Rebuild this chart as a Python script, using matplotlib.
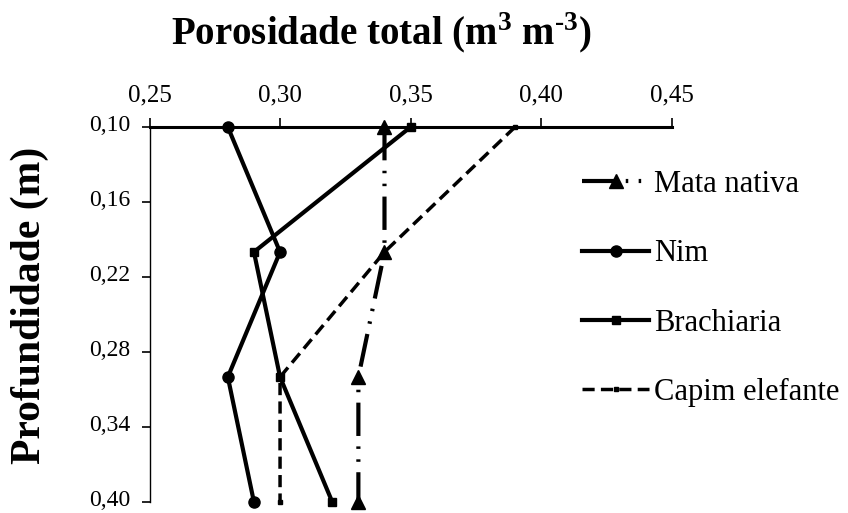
import matplotlib
matplotlib.use("Agg")
import matplotlib.pyplot as plt
import matplotlib.transforms as mtransforms
from matplotlib.ticker import FixedLocator, FuncFormatter

depth = [0.10, 0.20, 0.30, 0.40]
mata_nativa = [0.34, 0.34, 0.33, 0.33]
nim = [0.28, 0.30, 0.28, 0.29]
brachiaria = [0.35, 0.29, 0.30, 0.32]
capim_elefante = [0.39, 0.34, 0.30, 0.30]
x_ticks = [0.25, 0.30, 0.35, 0.40, 0.45]
y_ticks = [0.10, 0.16, 0.22, 0.28, 0.34, 0.40]
labels = ["Mata nativa", "Nim", "Brachiaria", "Capim elefante"]

plt.rcParams['font.family'] = ['Liberation Serif', 'DejaVu Serif']
plt.rcParams['mathtext.fontset'] = 'custom'
plt.rcParams['mathtext.rm'] = 'Liberation Serif:bold'
plt.rcParams['mathtext.bf'] = 'Liberation Serif:bold'

fig = plt.figure(figsize=(8.48, 5.13), dpi=100)
ax = fig.add_axes([149.5/848, 1-502/513, (671.7-149.5)/848, (502-127)/513])

l1, = ax.plot(mata_nativa, depth, color='black', lw=3, marker='^', markersize=10,
              dashes=(8, 2.5, 0.6, 2.5, 0.6, 2.5), label=labels[0], clip_on=False)
l2, = ax.plot(nim, depth, color='black', lw=3, marker='o', markersize=8,
              label=labels[1], clip_on=False)
l3, = ax.plot(brachiaria, depth, color='black', lw=3, marker='s', markersize=6,
              label=labels[2], clip_on=False)
l4, = ax.plot(capim_elefante, depth, color='black', lw=2.5, marker='s', markersize=3.5,
              dashes=(3.5, 1.8), label=labels[3], clip_on=False)

ax.set_xlim(0.25, 0.45)
ax.set_ylim(0.40, 0.10)
ax.xaxis.set_major_locator(FixedLocator(x_ticks))
ax.yaxis.set_major_locator(FixedLocator(y_ticks))
fmt = FuncFormatter(lambda v, p: f"{v:.2f}".replace('.', ','))
ax.xaxis.set_major_formatter(fmt)
ax.yaxis.set_major_formatter(fmt)
ax.xaxis.tick_top()
ax.spines['bottom'].set_visible(False)
ax.spines['right'].set_visible(False)
ax.spines['top'].set_linewidth(2.2)
ax.spines['left'].set_linewidth(1.0)
ax.tick_params(axis='x', direction='out', length=6.5, width=1.2, pad=8, labelsize=18)
ax.tick_params(axis='y', direction='out', length=5.5, width=1.2, pad=8, labelsize=17)

offset = mtransforms.ScaledTranslation(0, 4/100, fig.dpi_scale_trans)
for lbl in ax.get_yticklabels():
    lbl.set_transform(lbl.get_transform() + offset)

fig.text(381/848, 1-33/513, r"Porosidade total (m$^{3}$ m$^{\text{-}3}$)",
         ha='center', va='center', fontsize=28, fontweight='bold')
fig.text(30/848, 1-305/513, "Profundidade (m)", rotation=90, ha='center', va='center',
         fontsize=30, fontweight='bold')

fig.legend(handles=[l1, l2, l3, l4], loc='upper left', bbox_to_anchor=(582/848, 1-170/513),
           frameon=False, fontsize=22, handlelength=2.2, handletextpad=0.15,
           labelspacing=1.32, borderpad=0, borderaxespad=0)

fig.savefig("out.png", dpi=100)
